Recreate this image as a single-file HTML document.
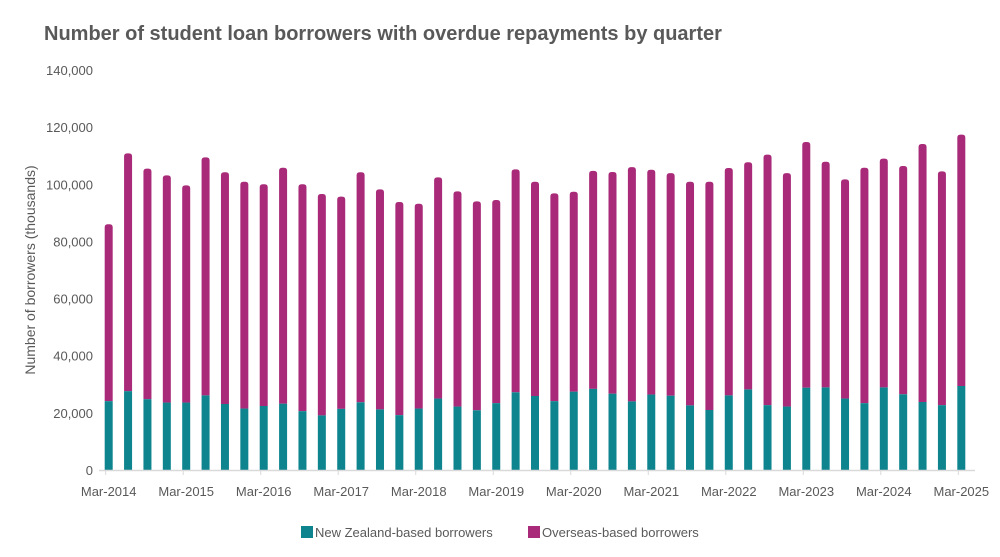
<!DOCTYPE html>
<html><head><meta charset="utf-8"><style>
body{margin:0;background:#fff;font-family:"Liberation Sans",sans-serif}
svg{display:block}
</style></head><body>
<svg id="chart" width="1000" height="557">
<text x="44" y="40" font-size="20" font-weight="bold" fill="#595959">Number of student loan borrowers with overdue repayments by quarter</text>
<text transform="translate(35,270) rotate(-90)" text-anchor="middle" font-size="14" fill="#595959">Number of borrowers (thousands)</text>
<g id="yaxis"></g><g id="bars"></g><g id="xaxis"></g>
<g>
<g><rect x="301" y="526" width="12" height="12" fill="#0e848e"/><text x="315" y="537" font-size="13" fill="#595959">New Zealand-based borrowers</text></g>
<g><rect x="528" y="526" width="12" height="12" fill="#a82a79"/><text x="542" y="537" font-size="13" fill="#595959">Overseas-based borrowers</text></g>
</g>
</svg>
<script>
const nzValues=[24100,27600,24800,23600,23600,26100,23100,21500,22400,23200,20600,19100,21400,23700,21200,19200,21500,25000,22200,20900,23400,27200,25900,24100,27400,28400,26700,24000,26400,26000,22600,21000,26100,28200,22700,22200,28800,28900,25000,23400,28900,26500,23800,22700,29400];
const totalValues=[86000,110800,105500,103100,99600,109400,104200,100900,100000,105800,100000,96600,95700,104200,98200,93800,93200,102400,97500,94000,94500,105200,100900,96800,97400,104700,104300,106000,105100,103900,100900,100900,105700,107700,110400,103900,114800,107900,101700,105800,109000,106400,114100,104500,117400];
const yTicks=[0,20000,40000,60000,80000,100000,120000,140000];
const xLabels=["Mar-2014","Mar-2015","Mar-2016","Mar-2017","Mar-2018","Mar-2019","Mar-2020","Mar-2021","Mar-2022","Mar-2023","Mar-2024","Mar-2025"];
const NS="http://www.w3.org/2000/svg";
const x0=99,x1=971,y0=470,yTop=70,yMax=140000;
const n=nzValues.length,band=(x1-x0)/n,bw=8;
const y=v=>y0-v/yMax*(y0-yTop);
const xc=i=>x0+band*(i+0.5);
function mk(tag,attrs,parent){const e=document.createElementNS(NS,tag);for(const k in attrs)e.setAttribute(k,attrs[k]);parent.appendChild(e);return e;}
const ya=document.getElementById('yaxis');
yTicks.forEach(t=>{const e=mk('text',{x:93,y:y(t)+5,'text-anchor':'end','font-size':13,fill:'#595959'},ya);e.textContent=t.toLocaleString('en-US');

});
const bg=document.getElementById('bars');
for(let i=0;i<n;i++){
 const cx=xc(i),l=cx-bw/2,tt=y(totalValues[i]),tn=y(nzValues[i]),r=3;
 const p=mk('path',{d:`M${l},${tn} L${l},${tt+r} Q${l},${tt} ${l+r},${tt} L${l+bw-r},${tt} Q${l+bw},${tt} ${l+bw},${tt+r} L${l+bw},${tn} Z`,fill:'#a82a79'},bg);
 
 
 const b=mk('rect',{x:l,y:tn,width:bw,height:y0-tn,fill:'#0e848e'},bg);
 
 
}
const xa=document.getElementById('xaxis');
const ax=mk('line',{x1:x0,x2:x1+4,y1:y0+0.5,y2:y0+0.5,stroke:'#d9d9d9','stroke-width':1.5},xa);


xLabels.forEach((lab,k)=>{const i=k*4;const cx=xc(i);
 mk('line',{x1:cx-3,x2:cx-3,y1:y0,y2:y0+5,stroke:'#d9d9d9'},xa);
 const e=mk('text',{x:cx,y:496,'text-anchor':'middle','font-size':13,fill:'#595959'},xa);e.textContent=lab;
 
 });
</script>
</body></html>
